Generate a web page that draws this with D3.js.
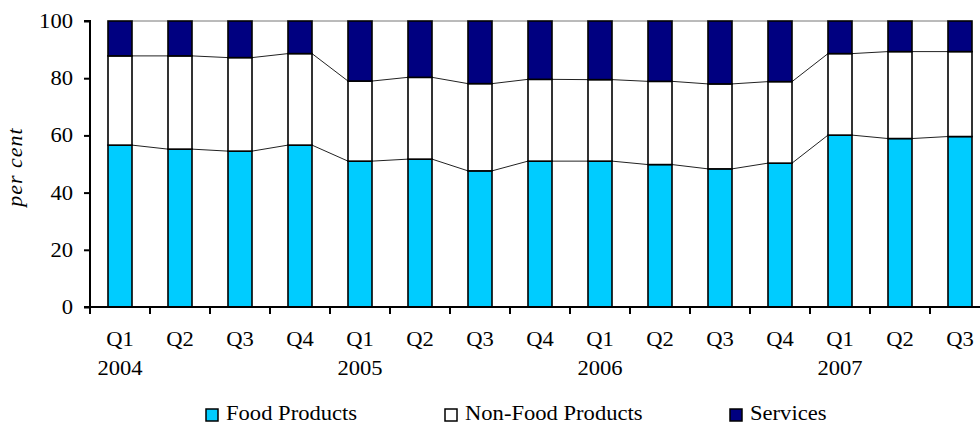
<!DOCTYPE html>
<html>
<head>
<meta charset="utf-8">
<script src="https://cdn.jsdelivr.net/npm/d3@7"></script>
<style>
  html, body { margin: 0; padding: 0; background: #fff; }
  svg { display: block; }
  svg text { font-family: "Liberation Serif", "Times New Roman", Tinos; fill: #000; }
</style>
</head>
<body>
<svg id="chart" width="980" height="425"></svg>
<script>
// Quarterly shares of spending, per cent
const quarters = ["Q1","Q2","Q3","Q4","Q1","Q2","Q3","Q4","Q1","Q2","Q3","Q4","Q1","Q2","Q3"];
const years    = ["2004","","","","2005","","","","2006","","","","2007","",""];
const food     = [56.6, 55.2, 54.5, 56.6, 51.0, 51.7, 47.6, 51.0, 51.0, 49.8, 48.3, 50.3, 60.1, 58.9, 59.6];
const nonFood  = [31.2, 32.6, 32.7, 32.0, 28.0, 28.6, 30.5, 28.6, 28.5, 29.1, 29.7, 28.5, 28.5, 30.4, 29.7];
const services = [12.2, 12.2, 12.8, 11.4, 21.0, 19.7, 21.9, 20.4, 20.5, 21.1, 22.0, 21.2, 11.4, 10.7, 10.7];
const yTicks   = [0, 20, 40, 60, 80, 100];
const seriesNames = ["Food Products", "Non-Food Products", "Services"];
const seriesColors = ["#00CCFF", "#FFFFFF", "#000080"];

// text is set in a slightly widened serif face
const FONT_SIZE = 20;
const WIDEN = 1.13;

const rows = quarters.map((q, i) => ({
  i, q, year: years[i],
  "Food Products": food[i],
  "Non-Food Products": nonFood[i],
  "Services": services[i]
}));

const svg = d3.select("#chart");
const plotLeft = 90, plotTop = 21, plotBottom = 307;

const x = d3.scaleBand()
  .domain(rows.map(d => d.i))
  .range([plotLeft, plotLeft + 60 * rows.length])
  .paddingInner(0.6)
  .paddingOuter(0.3);
const y = d3.scaleLinear().domain([0, 100]).range([plotBottom, plotTop]);

const stacked = d3.stack().keys(seriesNames)(rows);

// helper: place a widened label with its anchor at (px, py)
function label(g, px, py, str, anchor) {
  return g.append("text")
    .attr("transform", `translate(${px},${py}) scale(${WIDEN},1)`)
    .attr("text-anchor", anchor || "start")
    .style("font-family", "'Liberation Serif'")
    .style("font-size", FONT_SIZE + "px")
    .text(str);
}

// series lines joining the tops of each stack segment between bars
const seriesLines = svg.append("g");
stacked.forEach((layer, k) => {
  for (let i = 0; i < layer.length - 1; i++) {
    seriesLines.append("line")
      .attr("x1", x(i) + x.bandwidth())
      .attr("x2", x(i + 1))
      .attr("y1", y(layer[i][1]))
      .attr("y2", y(layer[i + 1][1]))
      .attr("stroke", k === 2 ? "#777" : "#222")
      .attr("stroke-width", 1);
  }
});

// stacked bars
const bars = svg.append("g");
stacked.forEach((layer, k) => {
  bars.selectAll(null)
    .data(layer)
    .join("rect")
    .attr("x", d => x(d.data.i))
    .attr("width", x.bandwidth())
    .attr("y", d => y(d[1]))
    .attr("height", d => y(d[0]) - y(d[1]))
    .attr("fill", seriesColors[k])
    .attr("stroke", "#000")
    .attr("stroke-width", 1.6);
});

// y axis
const yAxis = svg.append("g").attr("transform", `translate(${plotLeft},0)`)
  .call(d3.axisLeft(y).tickValues(yTicks).tickSize(6).tickPadding(11));
yAxis.select(".domain").attr("stroke", "#000").attr("stroke-width", 2)
  .attr("d", `M-6,${plotTop}H0V${plotBottom}H-6`);
yAxis.selectAll(".tick line").attr("stroke", "#000").attr("stroke-width", 2);
yAxis.selectAll(".tick text")
  .attr("x", null)
  .attr("dy", "0.32em")
  .attr("transform", `translate(-17,0) scale(${WIDEN},1)`)
  .style("font-family", "'Liberation Serif'")
  .style("font-size", FONT_SIZE + "px");

// x axis with ticks on the category boundaries
const step = x.step();
const xg = svg.append("g");
xg.append("line")
  .attr("x1", plotLeft).attr("x2", plotLeft + step * rows.length)
  .attr("y1", plotBottom).attr("y2", plotBottom)
  .attr("stroke", "#000").attr("stroke-width", 2);
d3.range(rows.length + 1).forEach(j => {
  xg.append("line")
    .attr("x1", plotLeft + j * step).attr("x2", plotLeft + j * step)
    .attr("y1", plotBottom).attr("y2", plotBottom + 7)
    .attr("stroke", "#000").attr("stroke-width", 2);
});
rows.forEach(d => {
  const cx = x(d.i) + x.bandwidth() / 2;
  label(xg, cx, 346, d.q, "middle");
  if (d.year) label(xg, cx, 375, d.year, "middle");
});

// y axis title
svg.append("text")
  .attr("transform", `translate(22,${167}) rotate(-90)`)
  .attr("text-anchor", "middle")
  .style("font-family", "'Liberation Serif'")
  .style("font-size", "22px")
  .style("font-style", "italic")
  .style("letter-spacing", "1px")
  .text("per cent");

// legend
const legendX = [206, 445, 730];
const legend = svg.append("g");
seriesNames.forEach((name, k) => {
  legend.append("rect")
    .attr("x", legendX[k]).attr("y", 409)
    .attr("width", 12).attr("height", 12)
    .attr("fill", seriesColors[k])
    .attr("stroke", "#000").attr("stroke-width", 1.5);
  label(legend, legendX[k] + 20, 420, name, "start");
});
</script>
</body>
</html>
